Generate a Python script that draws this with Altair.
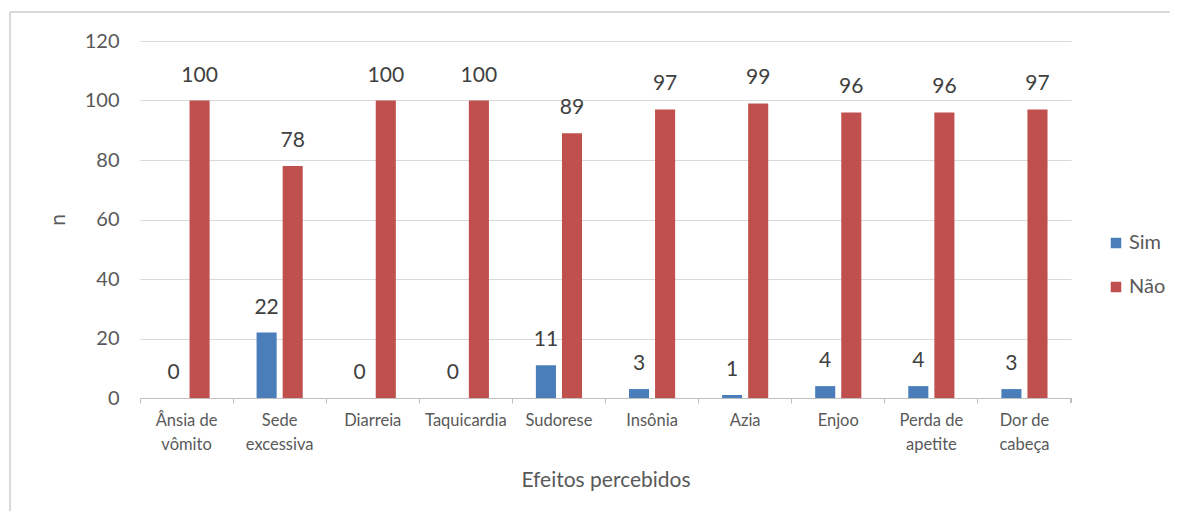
import altair as alt
import pandas as pd

categories = ["Ânsia de vômito", "Sede excessiva", "Diarreia", "Taquicardia", "Sudorese",
              "Insônia", "Azia", "Enjoo", "Perda de apetite", "Dor de cabeça"]
series_names = ["Sim", "Não"]
sim_values = [0, 22, 0, 0, 11, 3, 1, 4, 4, 3]
nao_values = [100, 78, 100, 100, 89, 97, 99, 96, 96, 97]
y_ticks = [0, 20, 40, 60, 80, 100, 120]

rows = []
for c, s, n in zip(categories, sim_values, nao_values):
    rows.append({"efeito": c, "serie": "Sim", "n": s})
    rows.append({"efeito": c, "serie": "Não", "n": n})
df = pd.DataFrame(rows)

FONT = "Lato"
TXT = "#595959"

x_enc = alt.X("efeito:N", sort=categories, title="Efeitos percebidos",
              scale=alt.Scale(paddingInner=0, paddingOuter=0),
              axis=alt.Axis(labelAngle=0, bandPosition=0, ticks=True, tickSize=5,
                            tickColor="#BFBFBF", domainColor="#BFBFBF", grid=False,
                            labelFontSize=16.5, labelColor=TXT, labelFont=FONT,
                            labelPadding=9, labelLineHeight=24, labelOffset=0,
                            labelExpr="indexof(datum.label,' ')>=0 ? [substring(datum.label,0,lastindexof(datum.label,' ')), substring(datum.label,lastindexof(datum.label,' ')+1)] : datum.label",
                            titleFontSize=21, titleFont=FONT, titleColor=TXT,
                            titleFontWeight="normal", titlePadding=17))
xoff = alt.XOffset("serie:N", sort=series_names,
                   scale=alt.Scale(paddingInner=0.23, paddingOuter=0.9))
y_enc = alt.Y("n:Q", title="n",
              scale=alt.Scale(domain=[0, 120]),
              axis=alt.Axis(values=y_ticks, domain=False, ticks=False,
                            gridColor="#D9D9D9", labelFontSize=20, labelColor=TXT,
                            labelFont=FONT, labelPadding=21,
                            titleFontSize=21, titleFont=FONT, titleColor=TXT,
                            titleFontWeight="normal", titlePadding=16))
color = alt.Color("serie:N", sort=series_names,
                  scale=alt.Scale(domain=series_names, range=["#4A7EBB", "#C0504D"]),
                  legend=alt.Legend(title=None, orient="none", legendX=966, legendY=192,
                                    symbolType="square", symbolSize=110,
                                    symbolStrokeWidth=0, labelFontSize=20,
                                    labelFont=FONT, labelColor=TXT, rowPadding=24,
                                    labelOffset=3))

bars = alt.Chart(df).mark_bar().encode(x=x_enc, xOffset=xoff, y=y_enc, color=color)
labels = alt.Chart(df).mark_text(dy=-25, fontSize=21, font=FONT, color="#404040",
                                 baseline="middle").encode(
    x=alt.X("efeito:N", sort=categories), xOffset=alt.XOffset("serie:N", sort=series_names),
    y="n:Q", text="n:Q")
end_tick = alt.Chart(df).mark_rule(color="#BFBFBF").encode(
    x=alt.value(931), y=alt.value(357), y2=alt.value(362))
frame_top = alt.Chart(df).mark_rule(color="#D9D9D9", strokeWidth=1).encode(
    x=alt.value(-130), x2=alt.value(1030), y=alt.value(-29))
frame_left = alt.Chart(df).mark_rule(color="#D9D9D9", strokeWidth=1).encode(
    x=alt.value(-130), y=alt.value(-29), y2=alt.value(470))

chart = alt.layer(frame_top, frame_left, bars, labels, end_tick).properties(
    width=931, height=357,
    autosize=alt.AutoSizeParams(type="none"),
    padding={"left": 132, "top": 33, "right": 102, "bottom": 113},
).configure_view(stroke=None)

chart.save("out.html", embed_options={"renderer": "svg", "actions": False})
